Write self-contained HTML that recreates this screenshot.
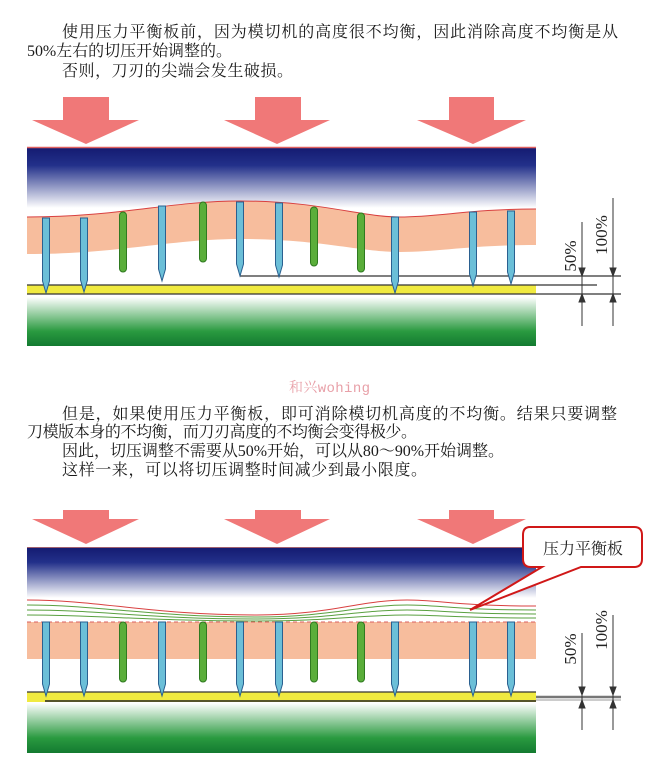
<!DOCTYPE html>
<html><head><meta charset="utf-8"><style>
html,body{margin:0;padding:0;background:#fff;width:660px;height:776px;overflow:hidden}
svg{display:block}
.t{font-family:"Liberation Serif","Noto Serif CJK SC",serif;font-size:16px;fill:#1a1a1a}
.d{font-family:"Liberation Serif",serif;font-size:17px;fill:#222}
</style></head><body>
<svg width="660" height="776" viewBox="0 0 660 776" xmlns="http://www.w3.org/2000/svg">
<defs>
<linearGradient id="bl" x1="0" y1="0" x2="0" y2="1"><stop offset="0" stop-color="#141a70"/><stop offset="0.3" stop-color="#22308a"/><stop offset="1" stop-color="#ffffff"/></linearGradient>
<linearGradient id="gr" x1="0" y1="0" x2="0" y2="1"><stop offset="0" stop-color="#ffffff"/><stop offset="0.7" stop-color="#2a9a40"/><stop offset="1" stop-color="#137a30"/></linearGradient>
</defs>

<text class="t" x="62" y="37" textLength="556">使用压力平衡板前，因为模切机的高度很不均衡，因此消除高度不均衡是从</text>
<text class="t" x="27" y="56" textLength="205">50%左右的切压开始调整的。</text>
<text class="t" x="62" y="76" textLength="231">否则，刀刃的尖端会发生破损。</text>

<text x="289" y="392" style="font-family:'Liberation Mono','Noto Serif CJK SC',monospace;font-size:14px;fill:#e8a0a8" textLength="81">和兴wohing</text>
<text class="t" x="62" y="419" textLength="555">但是，如果使用压力平衡板，即可消除模切机高度的不均衡。结果只要调整</text>
<text class="t" x="27" y="437" textLength="390">刀模版本身的不均衡，而刀刃高度的不均衡会变得极少。</text>
<text class="t" x="62" y="456" textLength="442">因此，切压调整不需要从50%开始，可以从80～90%开始调整。</text>
<text class="t" x="62" y="475" textLength="365">这样一来，可以将切压调整时间减少到最小限度。</text>

<!-- Diagram 1 -->
<g fill="#f07878">
<path d="M63,97 H109 V120 H139 L86,144 L32,120 H63Z"/>
<path d="M255,97 H301 V120 H330 L277,144 L224,120 H255Z"/>
<path d="M449,97 H494 V120 H526 L473,144 L417,120 H449Z"/>
</g>
<rect x="27" y="147" width="509" height="61" fill="url(#bl)"/>
<line x1="27" y1="147.5" x2="536" y2="147.5" stroke="#e06060" stroke-width="1.5"/>
<path d="M27,217 C120,217 170,201 240,201 C320,201 360,217 400,217 C440,217 470,209 536,209 V245 C470,245 440,252 400,252 C360,252 320,239 240,239 C170,239 120,254 27,254 Z" fill="#f7bd9d"/>
<path d="M27,217 C120,217 170,201 240,201 C320,201 360,217 400,217 C440,217 470,209 536,209" fill="none" stroke="#d84040" stroke-width="1"/>
<rect x="27" y="297" width="509" height="49" fill="url(#gr)"/>
<rect x="27" y="285" width="509" height="9" fill="#f0ea40"/>
<line x1="27" y1="285" x2="597" y2="285" stroke="#333" stroke-width="1.2"/>
<line x1="27" y1="294" x2="621" y2="294" stroke="#333" stroke-width="1.2"/>
<line x1="240" y1="276" x2="621" y2="276" stroke="#333" stroke-width="1.2"/>
<g fill="#6bbfd8" stroke="#2a6090" stroke-width="1">
<path d="M42.5,218 H49.5 V281 L46,293 L42.5,281Z"/>
<path d="M80.5,218 H87.5 V280 L84,292 L80.5,280Z"/>
<path d="M158.5,206 H165.5 V269 L162,281 L158.5,269Z"/>
<path d="M236.5,202 H243.5 V264 L240,276 L236.5,264Z"/>
<path d="M275.5,203 H282.5 V265 L279,277 L275.5,265Z"/>
<path d="M391.5,217 H398.5 V281 L395,293 L391.5,281Z"/>
<path d="M469.5,212 H476.5 V274 L473,286 L469.5,274Z"/>
<path d="M507.5,211 H514.5 V272 L511,284 L507.5,272Z"/>
</g>
<g fill="#5aae3a" stroke="#2f7a20" stroke-width="1">
<rect x="119.5" y="212" width="7" height="60" rx="3.5"/>
<rect x="199.5" y="202" width="7" height="60" rx="3.5"/>
<rect x="310.5" y="207" width="7" height="59" rx="3.5"/>
<rect x="357.5" y="213" width="7" height="59" rx="3.5"/>
</g>
<g stroke="#333" stroke-width="1" fill="#333">
<line x1="582" y1="222" x2="582" y2="326"/>
<line x1="613" y1="198" x2="613" y2="326"/>
<path d="M579,268 L582,276 L585,268Z"/><path d="M579,302 L582,294 L585,302Z"/>
<path d="M610,268 L613,276 L616,268Z"/><path d="M610,302 L613,294 L616,302Z"/>
</g>
<text class="d" transform="translate(576,256) rotate(-90)" text-anchor="middle">50%</text>
<text class="d" transform="translate(607,235) rotate(-90)" text-anchor="middle">100%</text>

<!-- Diagram 2 -->
<g fill="#f07878">
<path d="M63,510 H109 V519 H139 L86,544 L32,519 H63Z"/>
<path d="M255,510 H301 V519 H330 L277,544 L224,519 H255Z"/>
<path d="M449,510 H494 V519 H526 L473,544 L417,519 H449Z"/>
</g>
<rect x="27" y="547" width="509" height="51" fill="url(#bl)"/>
<line x1="27" y1="547.5" x2="536" y2="547.5" stroke="#a06070" stroke-width="1"/>
<g fill="none" stroke-width="1">
<path d="M27,600 C100,600 150,615 257,615 C330,615 360,600 407,600 C440,600 455,606 536,606" stroke="#d84040"/>
<path d="M27,605 C100,605 150,617 257,617 C330,617 360,605 407,605 C440,605 455,610 536,610" stroke="#5aa040"/>
<path d="M27,610 C100,610 150,619 257,619 C330,619 360,610 407,610 C440,610 455,614 536,614" stroke="#5aa040"/>
<path d="M27,615 C100,615 150,621 257,621 C330,621 360,615 407,615 C440,615 455,618 536,618" stroke="#5aa040"/>
</g>
<rect x="27" y="622" width="509" height="37" fill="#f7bd9d"/>
<line x1="27" y1="622" x2="536" y2="622" stroke="#d86060" stroke-width="1" stroke-dasharray="4,3"/>
<rect x="27" y="703" width="509" height="50" fill="url(#gr)"/>
<rect x="27" y="692" width="509" height="10" fill="#f0ea40"/>
<line x1="27" y1="692" x2="536" y2="692" stroke="#333" stroke-width="1.2"/>
<line x1="45" y1="701" x2="536" y2="701" stroke="#222" stroke-width="1.5"/>
<line x1="536" y1="697" x2="621" y2="697" stroke="#777" stroke-width="2.5"/>
<line x1="536" y1="700" x2="621" y2="700" stroke="#999" stroke-width="1"/>
<g fill="#6bbfd8" stroke="#2a6090" stroke-width="1">
<path d="M42.5,622 H49.5 V684 L46,696 L42.5,684Z"/>
<path d="M80.5,622 H87.5 V684 L84,696 L80.5,684Z"/>
<path d="M158.5,622 H165.5 V684 L162,696 L158.5,684Z"/>
<path d="M236.5,622 H243.5 V684 L240,696 L236.5,684Z"/>
<path d="M275.5,622 H282.5 V684 L279,696 L275.5,684Z"/>
<path d="M391.5,622 H398.5 V684 L395,696 L391.5,684Z"/>
<path d="M469.5,622 H476.5 V684 L473,696 L469.5,684Z"/>
<path d="M507.5,622 H514.5 V684 L511,696 L507.5,684Z"/>
</g>
<g fill="#5aae3a" stroke="#2f7a20" stroke-width="1">
<rect x="119.5" y="622" width="7" height="60" rx="3.5"/>
<rect x="199.5" y="622" width="7" height="60" rx="3.5"/>
<rect x="310.5" y="622" width="7" height="60" rx="3.5"/>
<rect x="357.5" y="622" width="7" height="60" rx="3.5"/>
</g>
<g stroke="#333" stroke-width="1" fill="#333">
<line x1="582" y1="633" x2="582" y2="730"/>
<line x1="613" y1="615" x2="613" y2="730"/>
<path d="M579,687 L582,695 L585,687Z"/><path d="M579,708 L582,700 L585,708Z"/>
<path d="M610,687 L613,695 L616,687Z"/><path d="M610,708 L613,700 L616,708Z"/>
</g>
<text class="d" transform="translate(576,649) rotate(-90)" text-anchor="middle">50%</text>
<text class="d" transform="translate(607,630) rotate(-90)" text-anchor="middle">100%</text>
<path d="M530,527 H634 Q642,527 642,535 V559 Q642,567 634,567 H581 L470,610 L542,567 H531 Q523,567 523,559 V535 Q523,527 530,527Z" fill="#fff" stroke="#d01818" stroke-width="2"/>
<text x="583" y="554" text-anchor="middle" style="font-family:'Noto Serif CJK SC',serif;font-size:16px;fill:#222">压力平衡板</text>
</svg>
</body></html>
